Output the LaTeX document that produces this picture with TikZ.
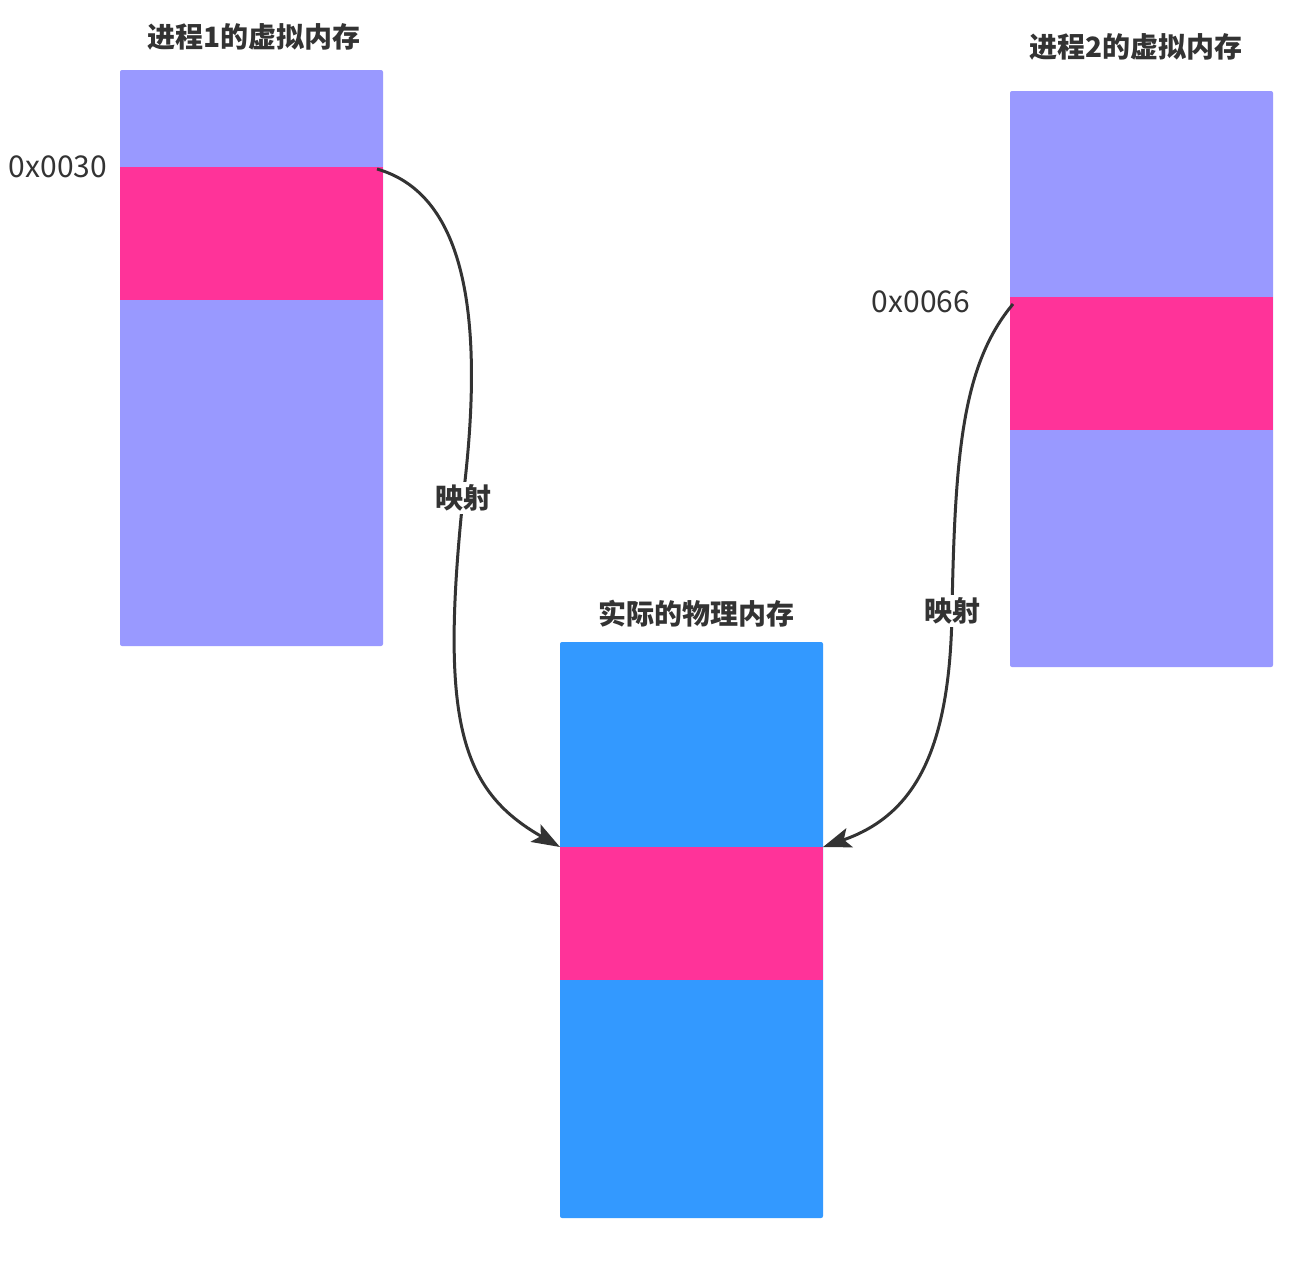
\documentclass[tikz,border=0pt]{standalone}
\usepackage{fontspec}
\setmainfont{Noto Sans CJK SC}
\usetikzlibrary{arrows.meta,calc}
\definecolor{lav}{HTML}{9999FF}
\definecolor{pinkb}{HTML}{FF3399}
\definecolor{blueb}{HTML}{3399FF}
\definecolor{ink}{HTML}{333333}
\tikzset{
  mem/.style={draw=none, inner sep=0pt, outer sep=0pt, minimum width=263pt, minimum height=576pt, anchor=north west, rounded corners=2pt},
  band/.style={fill=pinkb, draw=none, inner sep=0pt, outer sep=0pt, minimum width=263pt, minimum height=133pt, anchor=north west},
  title/.style={text=ink, font=\fontsize{28}{32}\selectfont\bfseries, inner sep=0pt},
  addr/.style={text=ink, font=\fontsize{30}{34}\selectfont, inner sep=0pt},
  maplabel/.style={text=ink, font=\fontsize{28}{32}\selectfont\bfseries, fill=white, inner sep=3pt},
  link/.style={draw=ink, line width=3pt, -{Stealth[length=28pt,width=20pt,inset=6pt]}}
}
\begin{document}
\begin{tikzpicture}[x=1pt,y=-1pt]
\useasboundingbox[fill=white] (0,0) rectangle (1308,1262);
% boxes
\node[mem, fill=lav] (v1) at (120,70) {};
\node[band] (b1) at (120,167) {};
\node[mem, fill=lav] (v2) at (1010,91) {};
\node[band] (b2) at (1010,297) {};
\node[mem, fill=blueb] (ph) at (560,642) {};
\node[band] (b3) at (560,847) {};
% titles
\node[title] (t1) at (254,37) {进程1的虚拟内存};
\node[title] (t2) at (1136,47) {进程2的虚拟内存};
\node[title] (t3) at (696,614) {实际的物理内存};
% addresses
\node[addr] (a1) at (58,167) {0x0030};
\node[addr] (a2) at (921,302) {0x0066};
% midpoints
\coordinate (m1) at (463,498);
\coordinate (m2) at (952,611);
\coordinate (s1) at ($(b1.north east)+(-6,2)$);
\coordinate (s2) at ($(b2.north west)+(3,7)$);
% connectors
\draw[link] (s1) .. controls (450,190) and (490,280) .. (m1)
  .. controls (440,720) and (460,790) .. (b3.north west);
\draw[link] (s2) .. controls (963,364) and (955,450) .. (m2)
  .. controls (950,750) and (915,815) .. (b3.north east);
\node[maplabel] (l1) at (m1) {映射};
\node[maplabel] (l2) at (m2) {映射};
\end{tikzpicture}
\end{document}
